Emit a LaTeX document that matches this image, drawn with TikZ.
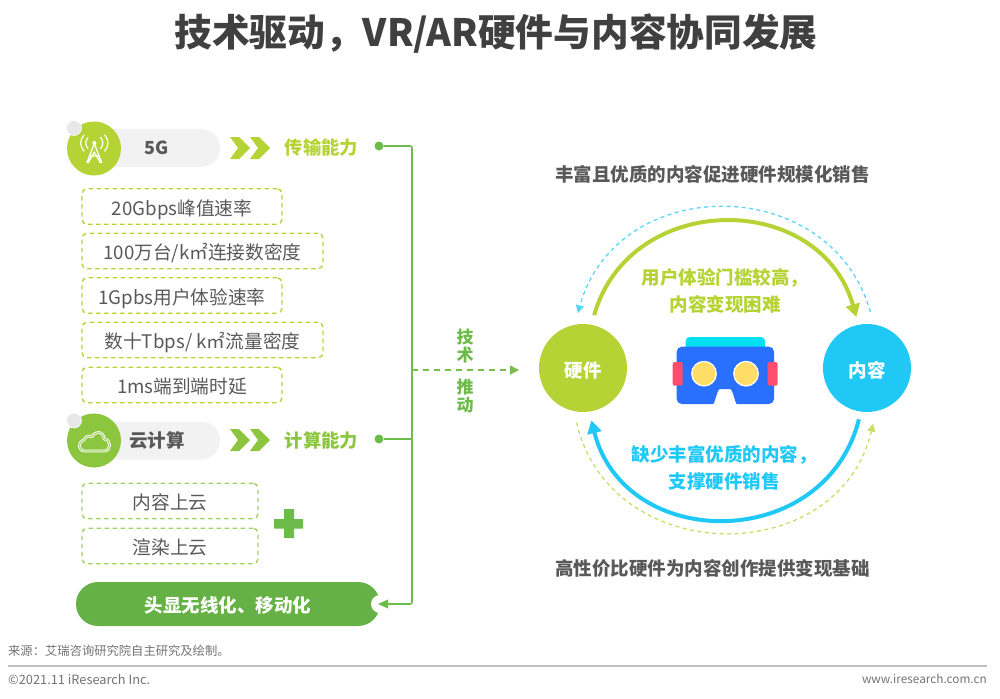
\documentclass[tikz,border=0pt]{standalone}
\usepackage{fontspec}
\setmainfont{Noto Sans CJK SC}
\usetikzlibrary{arrows.meta}
\definecolor{limegreen}{HTML}{B5D334}
\definecolor{leafgreen}{HTML}{8CC63F}
\definecolor{busgreen}{HTML}{6DBB4B}
\definecolor{padgreen}{HTML}{66B145}
\definecolor{skyblue}{HTML}{20C8F5}
\definecolor{bodytext}{HTML}{595959}
\definecolor{vrbody}{HTML}{2970FF}
\definecolor{vrtop}{HTML}{00E0F5}
\definecolor{vrside}{HTML}{FF4D6D}
\definecolor{vreye}{HTML}{FFDD66}
\tikzset{
  pill/.style={fill=black!5, minimum width=152pt, minimum height=38pt, rounded corners=19pt, inner sep=0pt},
  iconball/.style={circle, minimum size=54pt, inner sep=0pt, outer sep=0pt},
  knob/.style={circle, fill=black!9, draw=white, line width=0.6pt, minimum size=15pt, inner sep=0pt},
  dotend/.style={circle, fill=busgreen, minimum size=9pt, inner sep=0pt, outer sep=0pt},
  tagbox/.style={draw=#1, dashed, dash pattern=on 4.5pt off 3.5pt, line width=1.4pt, rounded corners=5pt, inner sep=0pt, minimum height=35.5pt, text height=19pt, text depth=2pt, text=bodytext, font=\fontsize{18.7}{22}\selectfont},
  hub/.style={circle, minimum size=88pt, inner sep=0pt, outer sep=0pt, text height=18pt, text depth=0pt, text=white, font=\fontsize{18.5}{20}\selectfont\bfseries},
  capline/.style={font=\fontsize{18.5}{27}\selectfont\bfseries, align=center},
  techchar/.style={text=busgreen, font=\fontsize{17}{20}\selectfont\bfseries},
  footnote/.style={inner sep=0pt, text=black!55},
}
\begin{document}
\begin{tikzpicture}[x=1pt, y=-1pt]
  \useasboundingbox (0,0) rectangle (1000,698);
  \node[text=black!75, font=\fontsize{37.7}{42}\selectfont\bfseries] (title) at (496,34) {技术驱动，VR/AR硬件与内容协同发展};

  % left column, 5G
  \node[pill] (pillfive) at (144,148) {};
  \node[iconball, fill=limegreen] (ballfive) at (94,148.5) {};
  \node[knob] (knobfive) at (74,128) {};
  \node[text=bodytext, font=\fontsize{18}{20}\selectfont\bfseries] (labfive) at (156.5,148) {5G};
  \node[text=limegreen, font=\fontsize{18.3}{20}\selectfont\bfseries] (rolefive) at (321.5,148) {传输能力};
  \node[dotend] (dotfive) at (379,146) {};
  \draw[white, line width=1.3pt, line join=round] (86.8,163) -- (94.3,143.5) -- (101.8,163) (89.5,156) -- (99,156) (88,163) -- (94.3,152) -- (100.6,163);
  \fill[white] (94.3,143) circle (2);
  \draw[white, line width=1.2pt, line cap=round] (88,137.5) .. controls (85,141) and (85,145) .. (88,148.5);
  \draw[white, line width=1.2pt, line cap=round] (84,135) .. controls (79.5,140) and (79.5,146) .. (84,151);
  \draw[white, line width=1.2pt, line cap=round] (100.6,137.5) .. controls (103.6,141) and (103.6,145) .. (100.6,148.5);
  \draw[white, line width=1.2pt, line cap=round] (104.6,135) .. controls (109.1,140) and (109.1,146) .. (104.6,151);

  \node[tagbox=limegreen, minimum width=200pt] (tagrate) at (182,206.5) {20Gbps峰值速率};
  \node[tagbox=limegreen, minimum width=241pt] (tagdense) at (202.5,251) {100万台/k㎡连接数密度};
  \node[tagbox=limegreen, minimum width=200pt] (taguser) at (182,295.5) {1Gpbs用户体验速率};
  \node[tagbox=limegreen, minimum width=241pt] (tagflow) at (202.5,340) {数十Tbps/ k㎡流量密度};
  \node[tagbox=limegreen, minimum width=200pt] (tagdelay) at (182,385) {1ms端到端时延};

  % left column, cloud
  \node[pill] (pillcloud) at (144,440.5) {};
  \node[iconball, fill=leafgreen] (ballcloud) at (94,440.5) {};
  \node[knob] (knobcloud) at (74,420.5) {};
  \node[text=bodytext, font=\fontsize{18.5}{20}\selectfont\bfseries] (labcloud) at (157,440.5) {云计算};
  \node[text=leafgreen, font=\fontsize{18.3}{20}\selectfont\bfseries] (rolecloud) at (321.5,441) {计算能力};
  \node[dotend] (dotcloud) at (379,439) {};
  \draw[white, double=leafgreen!70!white, line width=0.8pt, double distance=1.2pt, line join=round] (85,451) .. controls (78,451) and (77,442) .. (84,440) .. controls (85,436) and (90,435) .. (92,437) .. controls (95,430) and (104,431) .. (104,439) .. controls (111,439) and (112,451) .. (104,451) -- cycle;

  \node[tagbox=leafgreen!80!white, minimum width=176pt] (tagstore) at (170,501) {内容上云};
  \node[tagbox=leafgreen!80!white, minimum width=176pt] (tagrender) at (170,546) {渲染上云};
  \fill[busgreen] (284,509) rectangle (294,538) (274,519) rectangle (303,528.5);

  % head set pad with its notch
  \node[fill=padgreen, minimum width=304pt, minimum height=44pt, rounded corners=22pt, inner sep=0pt, outer sep=0pt] (pad) at (228,604) {};
  \node[circle, fill=white, minimum size=18pt, inner sep=0pt] (padnotch) at (380,604) {};
  \node[text=white, font=\fontsize{18.5}{20}\selectfont\bfseries] (padtext) at (228,605.5) {头显无线化、移动化};

  % bus
  \coordinate (bustop) at (412,146);
  \coordinate (busmid) at (412,370);
  \coordinate (buscloud) at (412,439);
  \coordinate (busend) at (412,604);
  \draw[busgreen, line width=1.6pt, rounded corners=2pt] (dotfive) -- (bustop) -- (busend) -- (padnotch.center);
  \draw[busgreen, line width=1.6pt] (dotcloud) -- (buscloud);
  \fill[busgreen] (378,604) -- (388,599.5) -- (388,608.5) -- cycle;

  % right part
  \node[hub, fill=limegreen] (hw) at (583,368) {硬件};
  \node[hub, fill=skyblue] (ct) at (867,368) {内容};
  \draw[busgreen!85!limegreen, line width=1.6pt, dash pattern=on 6pt off 5pt, -{Triangle[length=9pt,width=9pt]}, shorten >=20pt] (busmid) -- (busmid -| hw.west);
  \node[techchar] (techa) at (465,337) {技};
  \node[techchar] (techb) at (465,355) {术};
  \node[techchar] (techc) at (465,387) {推};
  \node[techchar] (techd) at (465,405) {动};

  \node[text=bodytext, font=\fontsize{18.5}{20}\selectfont\bfseries] (headtop) at (712.5,174) {丰富且优质的内容促进硬件规模化销售};
  \node[text=bodytext, font=\fontsize{18.5}{20}\selectfont\bfseries] (headbot) at (712.5,568) {高性价比硬件为内容创作提供变现基础};
  \node[capline, text=limegreen] (capup) at (725,290.5) {用户体验门槛较高，\\内容变现困难};
  \node[capline, text=skyblue] (capdown) at (724,467.5) {缺少丰富优质的内容，\\支撑硬件销售};

  \draw[limegreen, line width=4pt, -{Triangle[length=13pt,width=14pt]}, shorten <=10pt, shorten >=8pt] (hw.79) .. controls (630,190) and (820,190) .. (ct.101);
  \draw[skyblue, line width=4pt, -{Triangle[length=13pt,width=14pt]}, shorten <=8pt, shorten >=9pt] (ct.262) .. controls (825.2,552.9) and (624.8,552.9) .. (hw.278);
  \draw[skyblue!75!white, line width=1.3pt, dash pattern=on 4pt off 3.5pt, -{Triangle[length=8pt,width=8pt]}, shorten <=13pt, shorten >=12pt] (ct.81) .. controls (831,172) and (617,172) .. (hw.101);
  \draw[limegreen!75!white, line width=1.3pt, dash pattern=on 4pt off 3.5pt, -{Triangle[length=8pt,width=8pt]}, shorten <=12pt, shorten >=13pt] (hw.258) .. controls (610.9,569.4) and (838.8,569.4) .. (ct.282);

  % vr glasses
  \fill[vrtop, rounded corners=4pt] (685.7,352) -- (685.7,337) -- (765,337) -- (765,352) -- cycle;
  \fill[vrbody, rounded corners=5pt] (676.7,346.7) -- (774,346.7) -- (774,404) -- (742,404) .. controls (735,404) and (733,389) .. (725,389) .. controls (717,389) and (715,404) .. (708,404) -- (676.7,404) -- cycle;
  \foreach \sidex in {672.7,767.7}
    \fill[vrside, rounded corners=2pt] (\sidex,362) rectangle (\sidex+10,385.7);
  \foreach \eyex in {704,746}
    \filldraw[fill=vreye, draw=white, line width=1.2pt] (\eyex,373.7) circle (12.3);

  % chevrons
  \foreach \chevx/\chevy/\chevcol in {230/148/limegreen,250/148/limegreen,230/440/leafgreen,250/440/leafgreen}
    \fill[\chevcol] (\chevx,\chevy-11) -- (\chevx+9,\chevy-11) -- (\chevx+20,\chevy) -- (\chevx+9,\chevy+11) -- (\chevx,\chevy+11) -- (\chevx+8,\chevy) -- cycle;

  % foot
  \coordinate (footl) at (8,666);
  \coordinate (footr) at (987,666);
  \draw[black!25, line width=1.5pt] (footl) -- (footr);
  \node[footnote, anchor=west, font=\fontsize{12.3}{14}\selectfont] (source) at (8,651) {来源：艾瑞咨询研究院自主研究及绘制。};
  \node[footnote, anchor=west, font=\fontsize{12.8}{14}\selectfont] (copyr) at (8,679) {©2021.11 iResearch Inc.};
  \node[footnote, anchor=east, font=\fontsize{11.8}{14}\selectfont] (webs) at (987,679) {www.iresearch.com.cn};
\end{tikzpicture}
\end{document}
